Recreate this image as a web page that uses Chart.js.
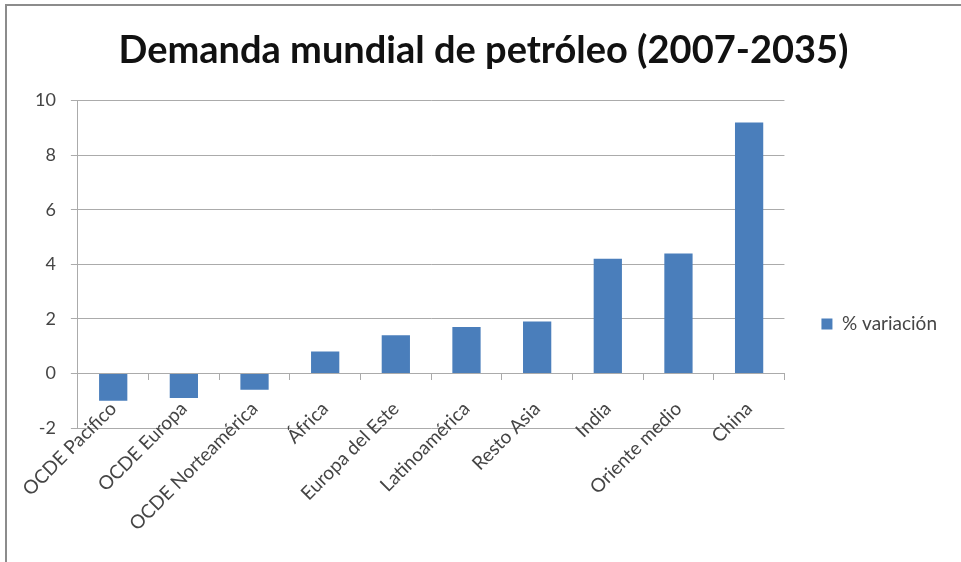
<!DOCTYPE html>
<html lang="es">
<head>
<meta charset="utf-8">
<title>Demanda mundial de petróleo</title>
<script src="https://cdn.jsdelivr.net/npm/chart.js@4"></script>
<style>
  body { margin: 0; background: #fff; overflow: hidden; }
  #marco { position: absolute; left: 5px; top: 4px; width: 1000px; height: 600px;
    border-left: 2px solid #8c8c8c; border-top: 2px solid #8c8c8c; }
  #cont { position: absolute; left: 0; top: 0; width: 961px; height: 562px; }
</style>
</head>
<body>
<div id="marco"></div>
<div id="cont"><canvas id="graf" width="961" height="562"></canvas></div>
<script>
const regiones = ["OCDE Pacifico", "OCDE Europa", "OCDE Norteamérica", "África", "Europa del Este",
  "Latinoamérica", "Resto Asia", "India", "Oriente medio", "China"];
const variacion = [-1.0, -0.9, -0.6, 0.8, 1.4, 1.7, 1.9, 4.2, 4.4, 9.2];
const nombreSerie = "% variación";
const titulo = "Demanda mundial de petróleo (2007-2035)";
const ejeMin = -2;
const ejeMax = 10;
const paso = 2;

const gris = "#ababab";
const textoGris = "#454545";

const ctx = document.getElementById("graf").getContext("2d");
new Chart(ctx, {
  type: "bar",
  data: {
    labels: regiones,
    datasets: [{
      label: nombreSerie,
      data: variacion,
      backgroundColor: "#4a7ebb",
      categoryPercentage: 0.4,
      barPercentage: 1.0
    }]
  },
  options: {
    responsive: false,
    animation: false,
    layout: { padding: { top: 0, right: 14, bottom: 134, left: 20 } },
    plugins: {
      title: {
        display: true,
        text: titulo,
        color: "#111",
        font: { family: "Lato", size: 38, weight: "bold" },
        padding: { top: 28, bottom: 27 }
      },
      legend: {
        position: "right",
        align: "start",
        title: { display: true, text: "", padding: { top: 263, bottom: 0 } },
        labels: {
          boxWidth: 11,
          boxHeight: 11,
          padding: 37,
          color: textoGris,
          font: { family: "Lato", size: 19 }
        }
      },
      tooltip: { enabled: false }
    },
    scales: {
      x: {
        position: { y: 0 },
        grid: { drawOnChartArea: false, drawTicks: true, tickLength: 6, color: gris, offset: true },
        border: { display: true, color: gris, width: 1 },
        ticks: {
          minRotation: 45,
          maxRotation: 45,
          padding: 18,
          color: textoGris,
          font: { family: "Lato", size: 19 }
        }
      },
      y: {
        min: ejeMin,
        max: ejeMax,
        grid: { color: gris, tickLength: 7 },
        border: { display: true, color: gris },
        ticks: {
          stepSize: paso,
          padding: 15,
          color: textoGris,
          font: { family: "Lato", size: 18 }
        }
      }
    }
  }
});
</script>
</body>
</html>
